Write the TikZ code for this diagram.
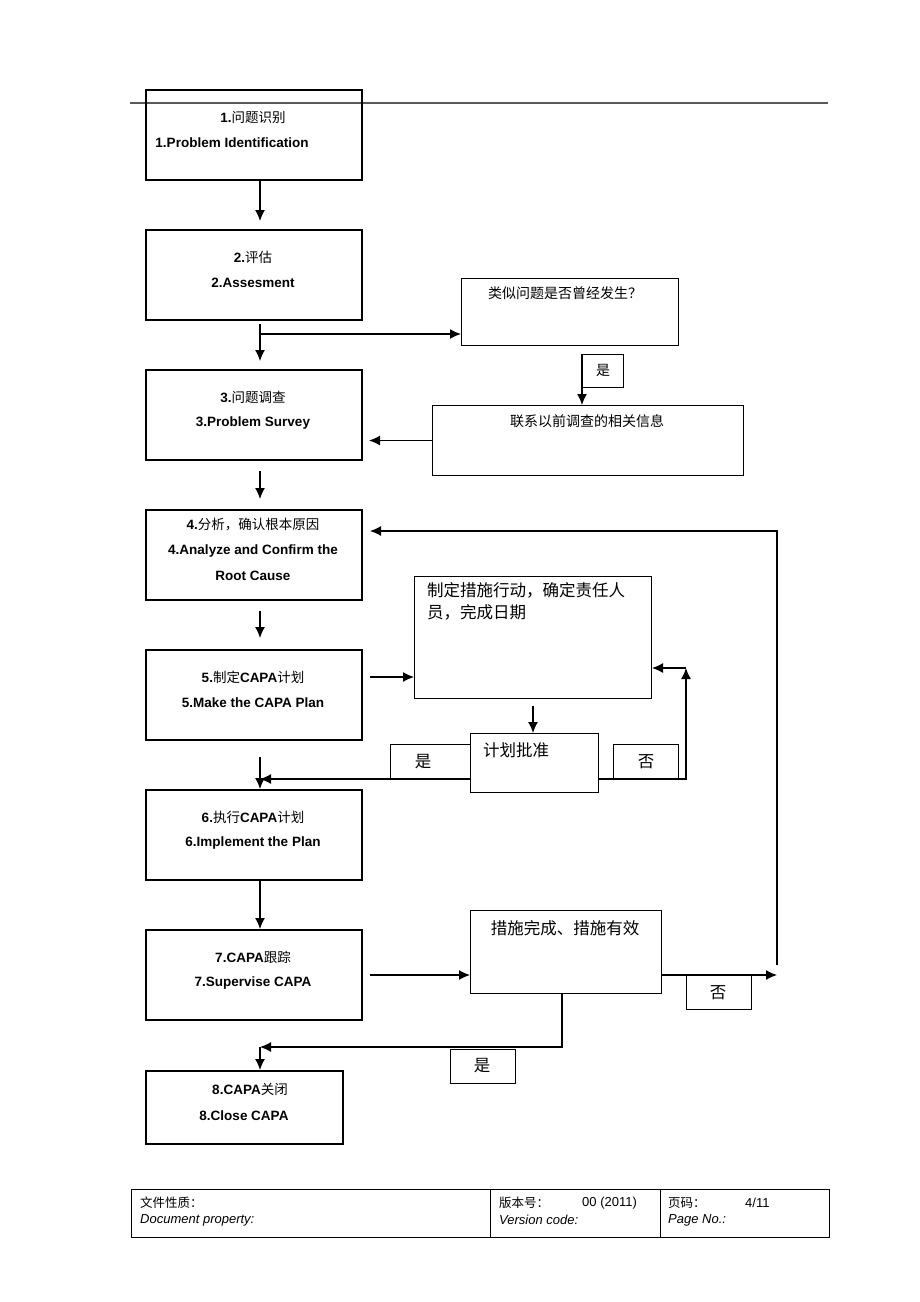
\documentclass[tikz,border=0pt]{standalone}
\usepackage{fontspec}
\setmainfont{Liberation Sans}
\newfontfamily\cjk{Noto Sans CJK SC}
\usetikzlibrary{arrows.meta}
\begin{document}
\begin{tikzpicture}[x=1pt,y=-1pt,
  box/.style={draw, line width=2pt, inner sep=0pt, anchor=north west},
  rbox/.style={draw, line width=1pt, inner sep=0pt, anchor=north west},
  lbl/.style={inner sep=0pt, font=\fontsize{13.5}{16}\selectfont\bfseries},
  ztxt/.style={inner sep=0pt, font=\fontsize{14}{18}\selectfont\cjk},
  btxt/.style={inner sep=0pt, font=\fontsize{16.5}{22}\selectfont\cjk},
  ftxt/.style={inner sep=0pt, anchor=west, font=\fontsize{13}{15}\selectfont},
  fctxt/.style={inner sep=0pt, anchor=west, font=\fontsize{12.5}{15}\selectfont\cjk},
  conn/.style={line width=1.3pt},
  arr/.style={conn, -{Latex[length=11pt,width=10pt]}}]
\useasboundingbox (0,0) rectangle (920,1302);
% header rule
\coordinate (hl1) at (130,103);
\coordinate (hl2) at (828,103);
\draw[gray!70!black, line width=1.5pt] (hl1) -- (hl2);
% column of arrows
\coordinate (col) at (260,0);
% main boxes
\node[box, minimum width=216pt, minimum height=90pt] (b1) at (145,89) {};
\node[box, minimum width=216pt, minimum height=90pt] (b2) at (145,229) {};
\node[box, minimum width=216pt, minimum height=90pt] (b3) at (145,369) {};
\node[box, minimum width=216pt, minimum height=90pt] (b4) at (145,509) {};
\node[box, minimum width=216pt, minimum height=90pt] (b5) at (145,649) {};
\node[box, minimum width=216pt, minimum height=90pt] (b6) at (145,789) {};
\node[box, minimum width=216pt, minimum height=90pt] (b7) at (145,929) {};
\node[box, minimum width=197pt, minimum height=73pt] (b8) at (145,1070) {};
% main box texts
\node[lbl] (t1a) at (253,117) {1.{\cjk\mdseries 问题识别}};
\node[lbl] (t1b) at (232,143) {1.Problem Identification};
\node[lbl] (t2a) at (253,257) {2.{\cjk\mdseries 评估}};
\node[lbl] (t2b) at (253,283) {2.Assesment};
\node[lbl] (t3a) at (253,397) {3.{\cjk\mdseries 问题调查}};
\node[lbl] (t3b) at (253,423) {3.Problem Survey};
\node[lbl] (t4a) at (253,525) {4.{\cjk\mdseries 分析，确认根本原因}};
\node[lbl] (t4b) at (253,551) {4.Analyze and Confirm the};
\node[lbl] (t4c) at (253,576) {Root Cause};
\node[lbl] (t5a) at (253,677) {5.{\cjk\mdseries 制定}CAPA{\cjk\mdseries 计划}};
\node[lbl] (t5b) at (253,703) {5.Make the CAPA Plan};
\node[lbl] (t6a) at (253,817) {6.{\cjk\mdseries 执行}CAPA{\cjk\mdseries 计划}};
\node[lbl] (t6b) at (253,843) {6.Implement the Plan};
\node[lbl] (t7a) at (253,957) {7.CAPA{\cjk\mdseries 跟踪}};
\node[lbl] (t7b) at (253,983) {7.Supervise CAPA};
\node[lbl] (t8a) at (250,1089) {8.CAPA{\cjk\mdseries 关闭}};
\node[lbl] (t8b) at (244,1116) {8.Close CAPA};
% right side boxes
\node[rbox, minimum width=217pt, minimum height=67pt] (q1) at (461,278) {};
\node[ztxt] (q1t) at (565,293) {类似问题是否曾经发生？};
\node[rbox, minimum width=41pt, minimum height=33pt] (qy) at (582,354) {};
\node[ztxt] (qyt) at (603,370) {是};
\node[rbox, minimum width=311pt, minimum height=70pt] (q2) at (432,405) {};
\node[ztxt] (q2t) at (587,421) {联系以前调查的相关信息};
\node[rbox, minimum width=237pt, minimum height=122pt] (p1) at (414,576) {};
\node[btxt, anchor=north west, align=left] (p1t) at (427,582) {制定措施行动，确定责任人\\员，完成日期};
\node[rbox, minimum width=128pt, minimum height=59pt] (p2) at (470,733) {};
\node[btxt, anchor=west] (p2t) at (483,750) {计划批准};
\node[rbox, minimum width=80pt, minimum height=34pt] (py) at (390,744) {};
\node[btxt] (pyt) at (423,762) {是};
\node[rbox, minimum width=65pt, minimum height=34pt] (pn) at (613,744) {};
\node[btxt] (pnt) at (646,762) {否};
\node[rbox, minimum width=191pt, minimum height=83pt] (e1) at (470,910) {};
\node[btxt] (e1t) at (565,928) {措施完成、措施有效};
\node[rbox, minimum width=65pt, minimum height=34pt] (en) at (686,975) {};
\node[btxt] (ent) at (718,993) {否};
\node[rbox, minimum width=65pt, minimum height=34pt] (ey) at (450,1049) {};
\node[btxt] (eyt) at (482,1066) {是};
% connectors
\draw[arr, shorten >=8pt] (b1.south -| col) -- (b2.north -| col);
\draw[arr, shorten <=3pt, shorten >=8pt] (b2.south -| col) -- (b3.north -| col);
\coordinate (br2) at (260,334);
\draw[arr] (br2) -- (br2 -| q1.west);
\draw[arr] (qy.north west) -- (qy.north west |- q2.north);
\draw[arr, shorten >=6pt] (q2.west) -- (q2.west -| b3.east);
\draw[arr, shorten <=10pt, shorten >=10pt] (b3.south -| col) -- (b4.north -| col);
\draw[arr, shorten <=10pt, shorten >=11pt] (b4.south -| col) -- (b5.north -| col);
\draw[arr, shorten <=7pt] ([yshift=-28pt]b5.north east) coordinate (c5) -- (c5 -| p1.west);
\draw[arr, shorten <=7pt] (p1.south) -- (p1.south |- p2.north);
\draw[arr] (py.south -| p2.west) -- (py.south -| col);
\draw[arr, shorten <=16pt] (b5.south -| col) -- (b6.north -| col);
\coordinate (pr) at (686,668);
\draw[arr] (p2.east |- pn.south) -| (pr);
\draw[arr] (pr) -- (pr -| p1.east);
\draw[arr] (b6.south -| col) -- (b7.north -| col);
\draw[arr, shorten <=7pt] ([yshift=-46pt]b7.north east) coordinate (c7) -- (c7 -| e1.west);
\coordinate (lpb) at (777,965);
\coordinate (lpt) at (777,531);
\draw[arr] (en.north west -| e1.east) -- (en.north west -| lpb);
\draw[arr, shorten >=7pt] (lpb) -- (lpt) -- (lpt -| b4.east);
\coordinate (eyc) at (562,1047);
\draw[arr] (e1.south -| eyc) -- (eyc) -- (eyc -| col);
\draw[arr] (eyc -| col) -- (b8.north -| col);
% footer
\node[draw, line width=0.8pt, inner sep=0pt, anchor=north west, minimum width=698pt, minimum height=48pt] (ft) at (131,1189) {};
\coordinate (d1) at (490,0);
\coordinate (d2) at (660,0);
\draw[line width=0.8pt] (ft.north -| d1) -- (ft.south -| d1);
\draw[line width=0.8pt] (ft.north -| d2) -- (ft.south -| d2);
\node[fctxt] (f1a) at (140,1203) {文件性质：};
\node[ftxt] (f1b) at (140,1220) {\itshape Document property:};
\node[fctxt] (f2a) at (499,1203) {版本号：};
\node[ftxt] (f2c) at (582,1203) {00 (2011)};
\node[ftxt] (f2b) at (499,1220) {\itshape Version code:};
\node[fctxt] (f3a) at (668,1203) {页码：};
\node[ftxt] (f3c) at (745,1203) {4/11};
\node[ftxt] (f3b) at (668,1220) {\itshape Page No.:};
\end{tikzpicture}
\end{document}
